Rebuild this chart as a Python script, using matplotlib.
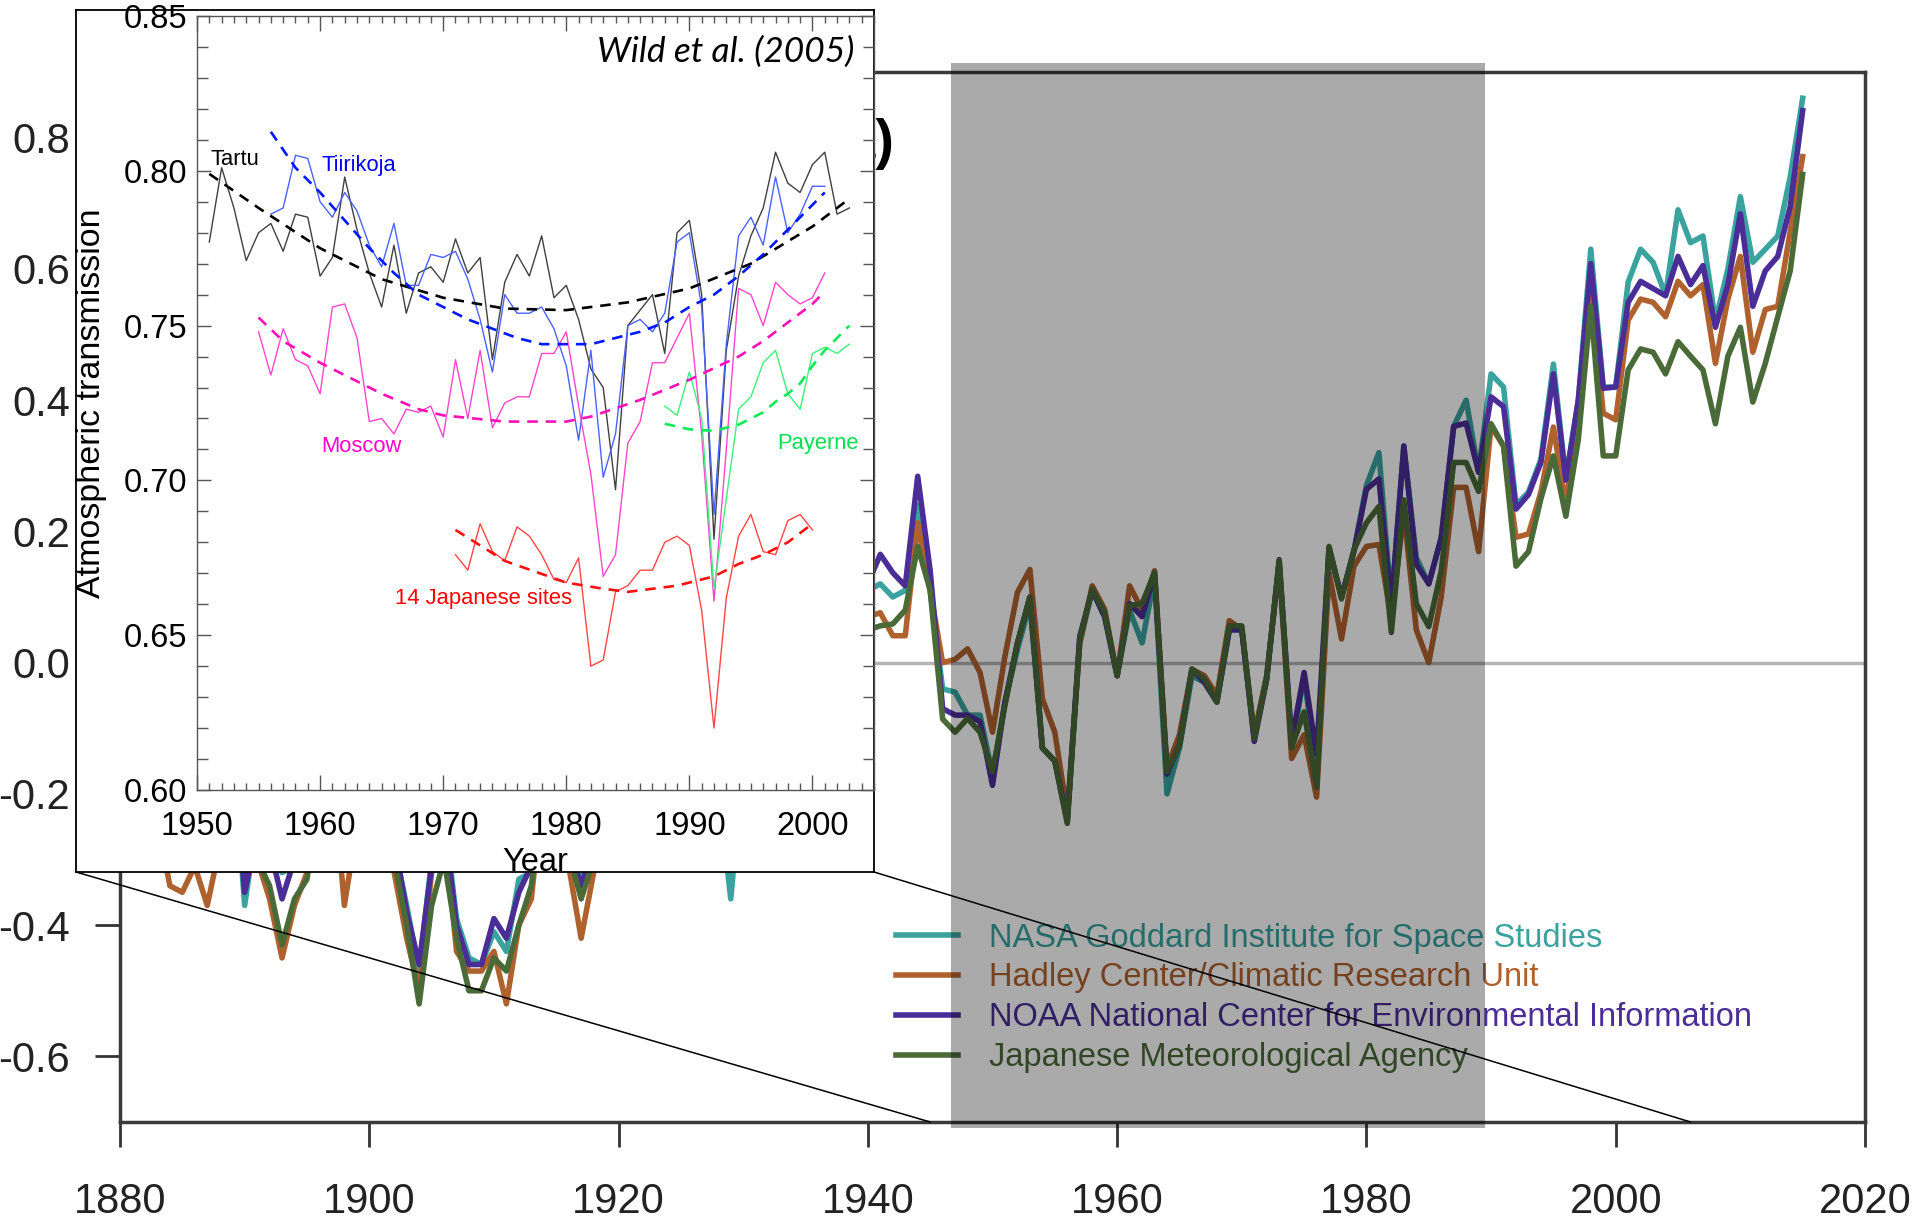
import numpy as np
import matplotlib
matplotlib.use('Agg')
import matplotlib.pyplot as plt
from matplotlib.patches import ConnectionPatch
from matplotlib.ticker import MultipleLocator, FormatStrFormatter

plt.rcParams['font.family'] = ['Liberation Sans', 'DejaVu Sans']
plt.rcParams['axes.unicode_minus'] = False

# ---------------- main chart data (temperature anomaly) ----------------
YEARS = list(range(1880, 2016))
NASA = [-0.20, -0.12, -0.10, -0.21, -0.28, -0.30, -0.29, -0.31, -0.20, -0.11,
        -0.37, -0.24, -0.27, -0.32, -0.31, -0.23, -0.11, -0.12, -0.27, -0.18,
        -0.09, -0.15, -0.28, -0.37, -0.47, -0.30, -0.23, -0.39, -0.45, -0.46,
        -0.41, -0.44, -0.33, -0.32, -0.16, -0.12, -0.29, -0.33, -0.27, -0.26,
        -0.25, -0.17, -0.27, -0.24, -0.25, -0.21, -0.09, -0.20, -0.19, -0.36,
        -0.15, -0.10, -0.17, -0.30, -0.14, -0.21, -0.16, -0.04, -0.03, -0.03,
        0.11, 0.12, 0.10, 0.11, 0.24, 0.11, -0.04, -0.045, -0.08, -0.08,
        -0.17, -0.06, 0.02, 0.09, -0.13, -0.15, -0.24, 0.03, 0.11, 0.07,
        -0.02, 0.08, 0.03, 0.13, -0.20, -0.13, -0.02, -0.03, -0.06, 0.05,
        0.05, -0.11, -0.02, 0.15, -0.13, -0.02, -0.17, 0.17, 0.10, 0.17,
        0.27, 0.32, 0.09, 0.33, 0.16, 0.12, 0.19, 0.36, 0.40, 0.29,
        0.44, 0.42, 0.24, 0.26, 0.31, 0.455, 0.28, 0.40, 0.63, 0.42,
        0.42, 0.58, 0.63, 0.61, 0.56, 0.69, 0.64, 0.65, 0.52, 0.60,
        0.71, 0.61, 0.63, 0.65, 0.74, 0.86]
HADLEY = [-0.22, -0.14, -0.20, -0.24, -0.34, -0.35, -0.31, -0.37, -0.28, -0.15,
          -0.32, -0.30, -0.36, -0.45, -0.37, -0.32, -0.16, -0.15, -0.37, -0.25,
          -0.15, -0.21, -0.32, -0.42, -0.50, -0.32, -0.25, -0.44, -0.47, -0.47,
          -0.44, -0.52, -0.40, -0.36, -0.18, -0.11, -0.31, -0.42, -0.32, -0.24,
          -0.23, -0.15, -0.25, -0.23, -0.24, -0.16, -0.04, -0.14, -0.13, -0.28,
          -0.09, -0.03, -0.08, -0.24, -0.09, -0.13, -0.09, 0.04, 0.05, 0.05,
          0.07, 0.076, 0.041, 0.041, 0.213, 0.11, 0.0, 0.005, 0.021, -0.015,
          -0.106, 0.01, 0.107, 0.142, -0.055, -0.106, -0.23, 0.03, 0.117, 0.081,
          -0.02, 0.117, 0.08, 0.14, -0.16, -0.11, -0.01, -0.02, -0.05, 0.064,
          0.05, -0.11, -0.02, 0.15, -0.146, -0.11, -0.205, 0.137, 0.036, 0.147,
          0.177, 0.18, 0.066, 0.23, 0.05, 0.0, 0.10, 0.267, 0.267, 0.169,
          0.36, 0.33, 0.191, 0.196, 0.26, 0.359, 0.24, 0.38, 0.576, 0.38,
          0.37, 0.522, 0.554, 0.549, 0.527, 0.581, 0.559, 0.576, 0.456, 0.554,
          0.619, 0.473, 0.538, 0.543, 0.657, 0.771]
NOAA = [-0.18, -0.11, -0.12, -0.20, -0.27, -0.29, -0.27, -0.30, -0.19, -0.12,
        -0.35, -0.26, -0.28, -0.36, -0.30, -0.24, -0.13, -0.13, -0.27, -0.19,
        -0.11, -0.16, -0.27, -0.38, -0.46, -0.31, -0.24, -0.40, -0.46, -0.46,
        -0.39, -0.42, -0.35, -0.31, -0.17, -0.13, -0.28, -0.34, -0.28, -0.25,
        -0.24, -0.18, -0.26, -0.24, -0.24, -0.20, -0.10, -0.19, -0.18, -0.30,
        -0.14, -0.10, -0.16, -0.29, -0.13, -0.19, -0.15, -0.03, -0.02, -0.01,
        0.12, 0.165, 0.137, 0.117, 0.284, 0.14, -0.07, -0.08, -0.08, -0.09,
        -0.187, -0.06, 0.03, 0.10, -0.13, -0.15, -0.24, 0.04, 0.11, 0.07,
        -0.02, 0.09, 0.07, 0.135, -0.17, -0.125, -0.01, -0.03, -0.06, 0.05,
        0.05, -0.12, -0.025, 0.155, -0.12, -0.015, -0.14, 0.175, 0.10, 0.17,
        0.264, 0.28, 0.087, 0.33, 0.15, 0.12, 0.19, 0.36, 0.365, 0.29,
        0.405, 0.39, 0.234, 0.256, 0.305, 0.44, 0.278, 0.40, 0.608, 0.418,
        0.42, 0.549, 0.581, 0.57, 0.559, 0.619, 0.576, 0.605, 0.511, 0.576,
        0.684, 0.543, 0.597, 0.619, 0.695, 0.841]
JMA = [-0.24, -0.17, -0.19, -0.24, -0.30, -0.30, -0.28, -0.31, -0.25, -0.18,
       -0.30, -0.30, -0.34, -0.43, -0.36, -0.33, -0.20, -0.18, -0.31, -0.25,
       -0.17, -0.21, -0.30, -0.40, -0.52, -0.37, -0.30, -0.42, -0.50, -0.50,
       -0.45, -0.47, -0.40, -0.34, -0.20, -0.14, -0.29, -0.36, -0.30, -0.26,
       -0.24, -0.18, -0.26, -0.24, -0.25, -0.19, -0.08, -0.17, -0.16, -0.30,
       -0.13, -0.08, -0.13, -0.27, -0.13, -0.17, -0.13, -0.01, 0.0, 0.0,
       0.05, 0.056, 0.059, 0.08, 0.177, 0.11, -0.086, -0.106, -0.085, -0.106,
       -0.166, -0.065, 0.03, 0.10, -0.13, -0.15, -0.245, 0.036, 0.112, 0.076,
       -0.02, 0.087, 0.09, 0.137, -0.166, -0.126, -0.01, -0.025, -0.06, 0.056,
       0.056, -0.116, -0.025, 0.157, -0.13, -0.075, -0.19, 0.177, 0.097, 0.172,
       0.213, 0.238, 0.046, 0.248, 0.09, 0.055, 0.14, 0.305, 0.305, 0.261,
       0.364, 0.33, 0.147, 0.169, 0.25, 0.315, 0.223, 0.34, 0.543, 0.315,
       0.315, 0.446, 0.478, 0.473, 0.44, 0.489, 0.467, 0.446, 0.364, 0.467,
       0.511, 0.397, 0.456, 0.527, 0.597, 0.744]
SERIES_LABELS = ['NASA Goddard Institute for Space Studies',
                 'Hadley Center/Climatic Research Unit',
                 'NOAA National Center for Environmental Information',
                 'Japanese Meteorological Agency']
MAIN_XTICKS = [1880, 1900, 1920, 1940, 1960, 1980, 2000, 2020]
MAIN_YTICKS = [-0.6, -0.4, -0.2, 0.0, 0.2, 0.4, 0.6, 0.8]
SHADE_START, SHADE_END = 1946.7, 1989.5
ZOOM_START, ZOOM_END = 1945.0, 2006.0

# ---------------- inset data (Wild et al. 2005) ----------------
TARTU_YEARS = list(range(1951, 2004))
TARTU = [0.777, 0.801, 0.788, 0.771, 0.780, 0.783, 0.774, 0.786, 0.785, 0.766,
         0.772, 0.798, 0.781, 0.767, 0.756, 0.776, 0.754, 0.767, 0.769, 0.764,
         0.778, 0.767, 0.772, 0.739, 0.764, 0.773, 0.766, 0.779, 0.759, 0.763,
         0.752, 0.736, 0.730, 0.697, 0.750, 0.755, 0.760, 0.741, 0.780, 0.784,
         0.760, 0.681, 0.742, 0.766, 0.779, 0.788, 0.806, 0.796, 0.793, 0.802,
         0.806, 0.786, 0.788]
TIIRIKOJA_YEARS = list(range(1956, 2002))
TIIRIKOJA = [0.786, 0.788, 0.805, 0.804, 0.790, 0.785, 0.793, 0.787, 0.776, 0.769,
             0.783, 0.763, 0.763, 0.773, 0.772, 0.774, 0.765, 0.752, 0.735, 0.760,
             0.754, 0.754, 0.756, 0.749, 0.737, 0.713, 0.742, 0.701, 0.715, 0.750,
             0.752, 0.748, 0.754, 0.777, 0.780, 0.756, 0.689, 0.744, 0.779, 0.785,
             0.776, 0.798, 0.780, 0.786, 0.795, 0.795]
MOSCOW_YEARS = list(range(1955, 2002))
MOSCOW = [0.748, 0.734, 0.749, 0.739, 0.737, 0.728, 0.756, 0.757, 0.746, 0.719,
          0.720, 0.715, 0.723, 0.722, 0.724, 0.714, 0.739, 0.720, 0.742, 0.717,
          0.725, 0.727, 0.727, 0.741, 0.741, 0.748, 0.724, 0.702, 0.669, 0.676,
          0.712, 0.719, 0.738, 0.738, 0.746, 0.754, 0.715, 0.661, 0.710, 0.762,
          0.760, 0.750, 0.764, 0.760, 0.757, 0.759, 0.767]
PAYERNE_YEARS = list(range(1988, 2004))
PAYERNE = [0.724, 0.721, 0.735, 0.720, 0.665, 0.694, 0.723, 0.727, 0.738, 0.742,
           0.728, 0.723, 0.741, 0.743, 0.741, 0.744]
JAPAN_YEARS = list(range(1971, 2001))
JAPAN = [0.676, 0.671, 0.686, 0.677, 0.674, 0.685, 0.682, 0.676, 0.668, 0.667,
         0.675, 0.640, 0.642, 0.664, 0.666, 0.671, 0.671, 0.680, 0.682, 0.679,
         0.658, 0.620, 0.662, 0.682, 0.689, 0.677, 0.676, 0.687, 0.689, 0.684]

# dashed trend curves
TARTU_FIT_YEARS = [1951, 1955, 1960, 1965, 1970, 1975, 1980, 1985, 1990, 1995, 2000, 2003]
TARTU_FIT = [0.799, 0.788, 0.775, 0.765, 0.759, 0.7555, 0.755, 0.7575, 0.762, 0.770, 0.782, 0.791]
TIIRIKOJA_FIT_YEARS = [1956, 1958, 1960, 1962, 1964, 1966, 1968, 1970, 1972, 1974, 1976,
                       1978, 1980, 1982, 1984, 1986, 1988, 1990, 1992, 1994, 1996, 1998,
                       2000, 2001]
TIIRIKOJA_FIT = [0.8126, 0.801, 0.793, 0.784, 0.775, 0.767, 0.760, 0.756, 0.752, 0.749,
                 0.746, 0.744, 0.744, 0.744, 0.746, 0.748, 0.751, 0.756, 0.760, 0.766,
                 0.773, 0.781, 0.789, 0.793]
MOSCOW_FIT_YEARS = [1955, 1957, 1960, 1963, 1965, 1968, 1970, 1975, 1980, 1982, 1986,
                    1990, 1994, 1996, 1998, 2000, 2001]
MOSCOW_FIT = [0.7526, 0.745, 0.738, 0.732, 0.728, 0.723, 0.721, 0.719, 0.719, 0.7206,
              0.726, 0.7325, 0.740, 0.745, 0.751, 0.757, 0.761]
PAYERNE_FIT_YEARS = [1988, 1990, 1992, 1994, 1996, 1997, 1998, 1999, 2000, 2001, 2003]
PAYERNE_FIT = [0.7183, 0.7165, 0.716, 0.718, 0.722, 0.7254, 0.728, 0.7313, 0.737, 0.742, 0.750]
JAPAN_FIT_YEARS = [1971, 1975, 1980, 1983, 1985, 1989, 1992, 1994, 1996, 1998, 2000]
JAPAN_FIT = [0.684, 0.674, 0.667, 0.665, 0.664, 0.666, 0.669, 0.673, 0.676, 0.680, 0.686]

# ---------------- styles ----------------
C_NASA, C_HAD, C_NOAA, C_JMA = '#3aa39f', '#b0622e', '#4a2d96', '#4a6a38'
W, H = 1917, 1222

fig = plt.figure(figsize=(W / 100, H / 100), dpi=100)
fig.patch.set_facecolor('white')

# main axes
ax = fig.add_axes([120 / W, 1 - 1122 / H, (1865 - 120) / W, (1122 - 72) / H])
ax.axhline(0, color='#b4b4b4', lw=2.5, zorder=1)
for vals, lab, col in zip([NASA, HADLEY, NOAA, JMA], SERIES_LABELS,
                          [C_NASA, C_HAD, C_NOAA, C_JMA]):
    ax.plot(YEARS, vals, color=col, lw=4.0, label=lab, zorder=3)
ax.set_xlim(1880, 2020)
ax.set_ylim(-0.7, 0.9)
ax.set_xticks(MAIN_XTICKS)
ax.set_yticks(MAIN_YTICKS)
ax.yaxis.set_major_formatter(FormatStrFormatter('%.1f'))
ax.tick_params(axis='both', direction='out', length=18, width=2, color='#333333',
               labelsize=30, labelcolor='#222222')
ax.tick_params(axis='x', pad=25)
ax.tick_params(axis='y', pad=18)
for s in ax.spines.values():
    s.set_linewidth(2.5)
    s.set_color('#3a3a3a')

leg = ax.legend(loc='upper left', bbox_to_anchor=(0.4447, 0.190), frameon=False,
                fontsize=23.5, handlelength=1.9, handletextpad=0.95, labelspacing=0.27,
                borderpad=0, borderaxespad=0, labelcolor='linecolor')
leg.set_zorder(5)

ax.axvspan(SHADE_START, SHADE_END, ymin=-0.006, ymax=1.009, facecolor='black',
           alpha=0.333, lw=0, zorder=6, clip_on=False)
ax.text(1942.1, 0.79, '(a)', ha='right', va='center', fontsize=40,
        fontweight='bold', color='black', zorder=4)

# white frame behind inset
frame = fig.add_axes([76 / W, 1 - 872 / H, (874 - 76) / W, (872 - 10) / H], zorder=10)
frame.set_xticks([])
frame.set_yticks([])
frame.set_facecolor('white')
for s in frame.spines.values():
    s.set_linewidth(1.3)
    s.set_color('black')

# inset axes
ins = fig.add_axes([197 / W, 1 - 790 / H, (874 - 197) / W, (790 - 16) / H], zorder=11)
ins.patch.set_alpha(0)
solid_kw = dict(lw=1.0, zorder=3)
dash_kw = dict(lw=1.9, dashes=(4, 3), zorder=4)
ins.plot(TARTU_YEARS, TARTU, color='#404040', **solid_kw)
ins.plot(TIIRIKOJA_YEARS, TIIRIKOJA, color='#4a62ff', **solid_kw)
ins.plot(MOSCOW_YEARS, MOSCOW, color='#ff45cc', **solid_kw)
ins.plot(PAYERNE_YEARS, PAYERNE, color='#3cf07a', **solid_kw)
ins.plot(JAPAN_YEARS, JAPAN, color='#ff4545', **solid_kw)
ins.plot(TARTU_FIT_YEARS, TARTU_FIT, color='black', **dash_kw)
ins.plot(TIIRIKOJA_FIT_YEARS, TIIRIKOJA_FIT, color='#0018ff', **dash_kw)
ins.plot(MOSCOW_FIT_YEARS, MOSCOW_FIT, color='#ff10b8', **dash_kw)
ins.plot(PAYERNE_FIT_YEARS, PAYERNE_FIT, color='#10e858', **dash_kw)
ins.plot(JAPAN_FIT_YEARS, JAPAN_FIT, color='#ff1010', **dash_kw)

ins.set_xlim(1950, 2005)
ins.set_ylim(0.60, 0.85)
ins.xaxis.set_major_locator(MultipleLocator(10))
ins.xaxis.set_minor_locator(MultipleLocator(1))
ins.yaxis.set_major_locator(MultipleLocator(0.05))
ins.yaxis.set_minor_locator(MultipleLocator(0.01))
ins.yaxis.set_major_formatter(FormatStrFormatter('%.2f'))
ins.tick_params(which='both', direction='in', top=True, right=True, color='#555555', width=1)
ins.tick_params(axis='x', which='major', length=11, labelsize=23.5, pad=15)
ins.tick_params(axis='x', which='minor', length=5)
ins.tick_params(axis='y', which='major', length=10, labelsize=23.5, pad=7)
ins.tick_params(axis='y', which='minor', length=8)
for s in ins.spines.values():
    s.set_linewidth(1.0)
    s.set_color('#555555')
ins.set_xlabel('Year', fontsize=23.5, labelpad=4)
ins.set_ylabel('Atmospheric transmission', fontsize=24.5, labelpad=12)

lab_kw = dict(fontsize=15.8, va='baseline', zorder=6)
ins.text(1951.08, 0.8019, 'Tartu', color='black', **lab_kw)
ins.text(1960.1, 0.8000, 'Tiirikoja', color='#0000ff', **lab_kw)
ins.text(1960.1, 0.7092, 'Moscow', color='#ff00cc', **lab_kw)
ins.text(1997.1, 0.7100, 'Payerne', color='#00e050', **lab_kw)
ins.text(1966.1, 0.6601, '14 Japanese sites', color='#ff0000', **lab_kw)
ins.text(2003.4, 0.8351, 'Wild et al. (2005)', ha='right', va='baseline', fontsize=25.5,
         style='italic', family=['Lato', 'DejaVu Sans'], color='black')

# zoom connector lines
for xa, xb in [(0, ZOOM_START), (1, ZOOM_END)]:
    con = ConnectionPatch(xyA=(xa, 0), coordsA=frame.transAxes,
                          xyB=(xb, -0.7), coordsB=ax.transData,
                          color='black', lw=1.1, zorder=20)
    fig.add_artist(con)

fig.savefig('out.png', dpi=100)
